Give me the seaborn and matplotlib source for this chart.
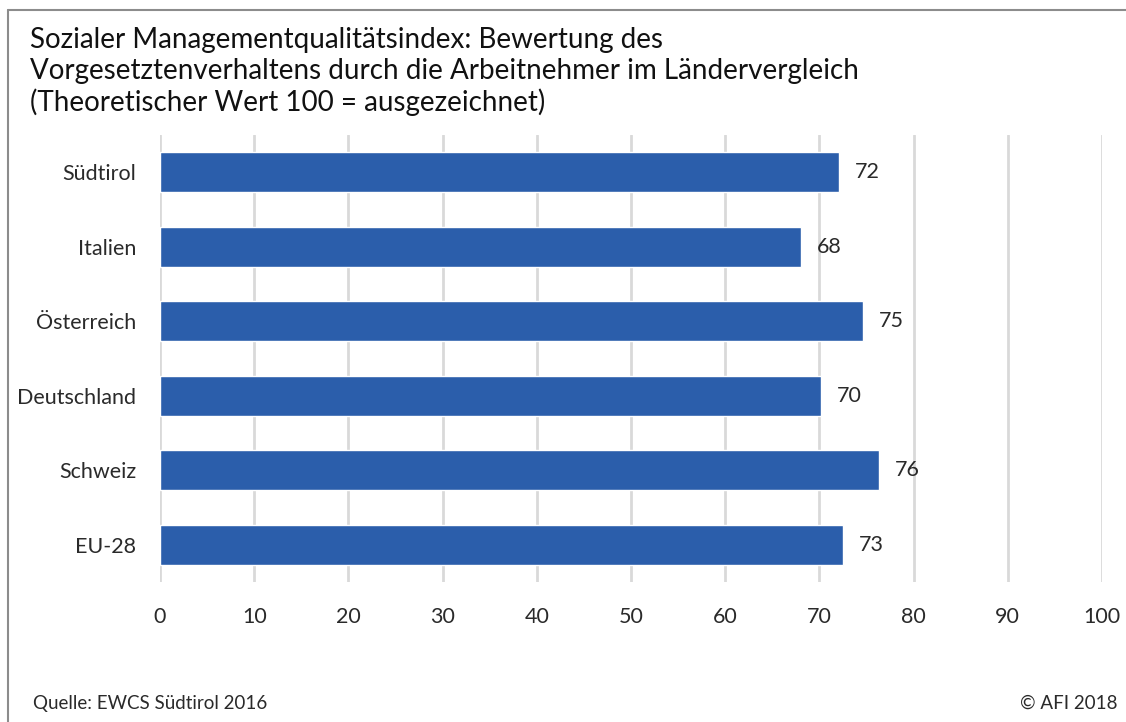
import matplotlib
matplotlib.use("Agg")
import matplotlib.pyplot as plt
import seaborn as sns
import pandas as pd
from matplotlib.lines import Line2D

categories = ["Südtirol", "Italien", "Österreich", "Deutschland", "Schweiz", "EU-28"]
values = [72.1, 68.0, 74.6, 70.2, 76.3, 72.5]
labels = ["72", "68", "75", "70", "76", "73"]
xticks = [0, 10, 20, 30, 40, 50, 60, 70, 80, 90, 100]

title = ("Sozialer Managementqualitätsindex: Bewertung des\n"
         "Vorgesetztenverhaltens durch die Arbeitnehmer im Ländervergleich\n"
         "(Theoretischer Wert 100 = ausgezeichnet)")
source = "Quelle: EWCS Südtirol 2016"
copyright_text = "© AFI 2018"

sns.set_theme(style="white")
plt.rcParams["font.family"] = ["Lato", "DejaVu Sans"]

df = pd.DataFrame({"cat": categories, "val": values})

fig = plt.figure(figsize=(11.26, 7.22), dpi=100)
ax = fig.add_axes([160 / 1126, 1 - 582 / 722, (1102 - 160) / 1126, (582 - 135) / 722])

sns.barplot(data=df, x="val", y="cat", orient="h", color="#2B5EAB",
            saturation=1, width=0.54, ax=ax, zorder=3)

txt_color = "#2A2A2A"
ax.set_xlim(0, 100)
ax.set_xticks(xticks)
ax.set_xticklabels([str(t) for t in xticks], fontsize=15.5, color=txt_color)
ax.set_yticks(range(len(categories)))
ax.set_yticklabels(categories, fontsize=15.5, color=txt_color)
ax.tick_params(axis="y", length=0, pad=17)
ax.tick_params(axis="x", length=0, pad=18)
ax.set_xlabel("")
ax.set_ylabel("")
ax.grid(axis="x", color="#D9D9D9", linewidth=2, zorder=0)
for s in ax.spines.values():
    s.set_visible(False)

for i, (v, lab) in enumerate(zip(values, labels)):
    ax.text(v + 1.7, i, lab, va="center", ha="left", fontsize=15.5, color=txt_color)

fig.text(30 / 1126, 1 - 27 / 722, title, ha="left", va="top", fontsize=20,
         color="#111111", linespacing=1.22)
fig.text(33 / 1126, 1 - 703 / 722, source, ha="left", va="center", fontsize=13.5,
         color=txt_color)
fig.text(1118 / 1126, 1 - 703 / 722, copyright_text, ha="right", va="center", fontsize=13.5,
         color=txt_color)

fig.add_artist(Line2D([8 / 1126, 8 / 1126], [0, 1 - 10 / 722], transform=fig.transFigure,
                      color="#8C8C8C", linewidth=1.5))
fig.add_artist(Line2D([8 / 1126, 1], [1 - 10 / 722, 1 - 10 / 722], transform=fig.transFigure,
                      color="#8C8C8C", linewidth=1.5))

fig.savefig("out.png", dpi=100, facecolor="white")
